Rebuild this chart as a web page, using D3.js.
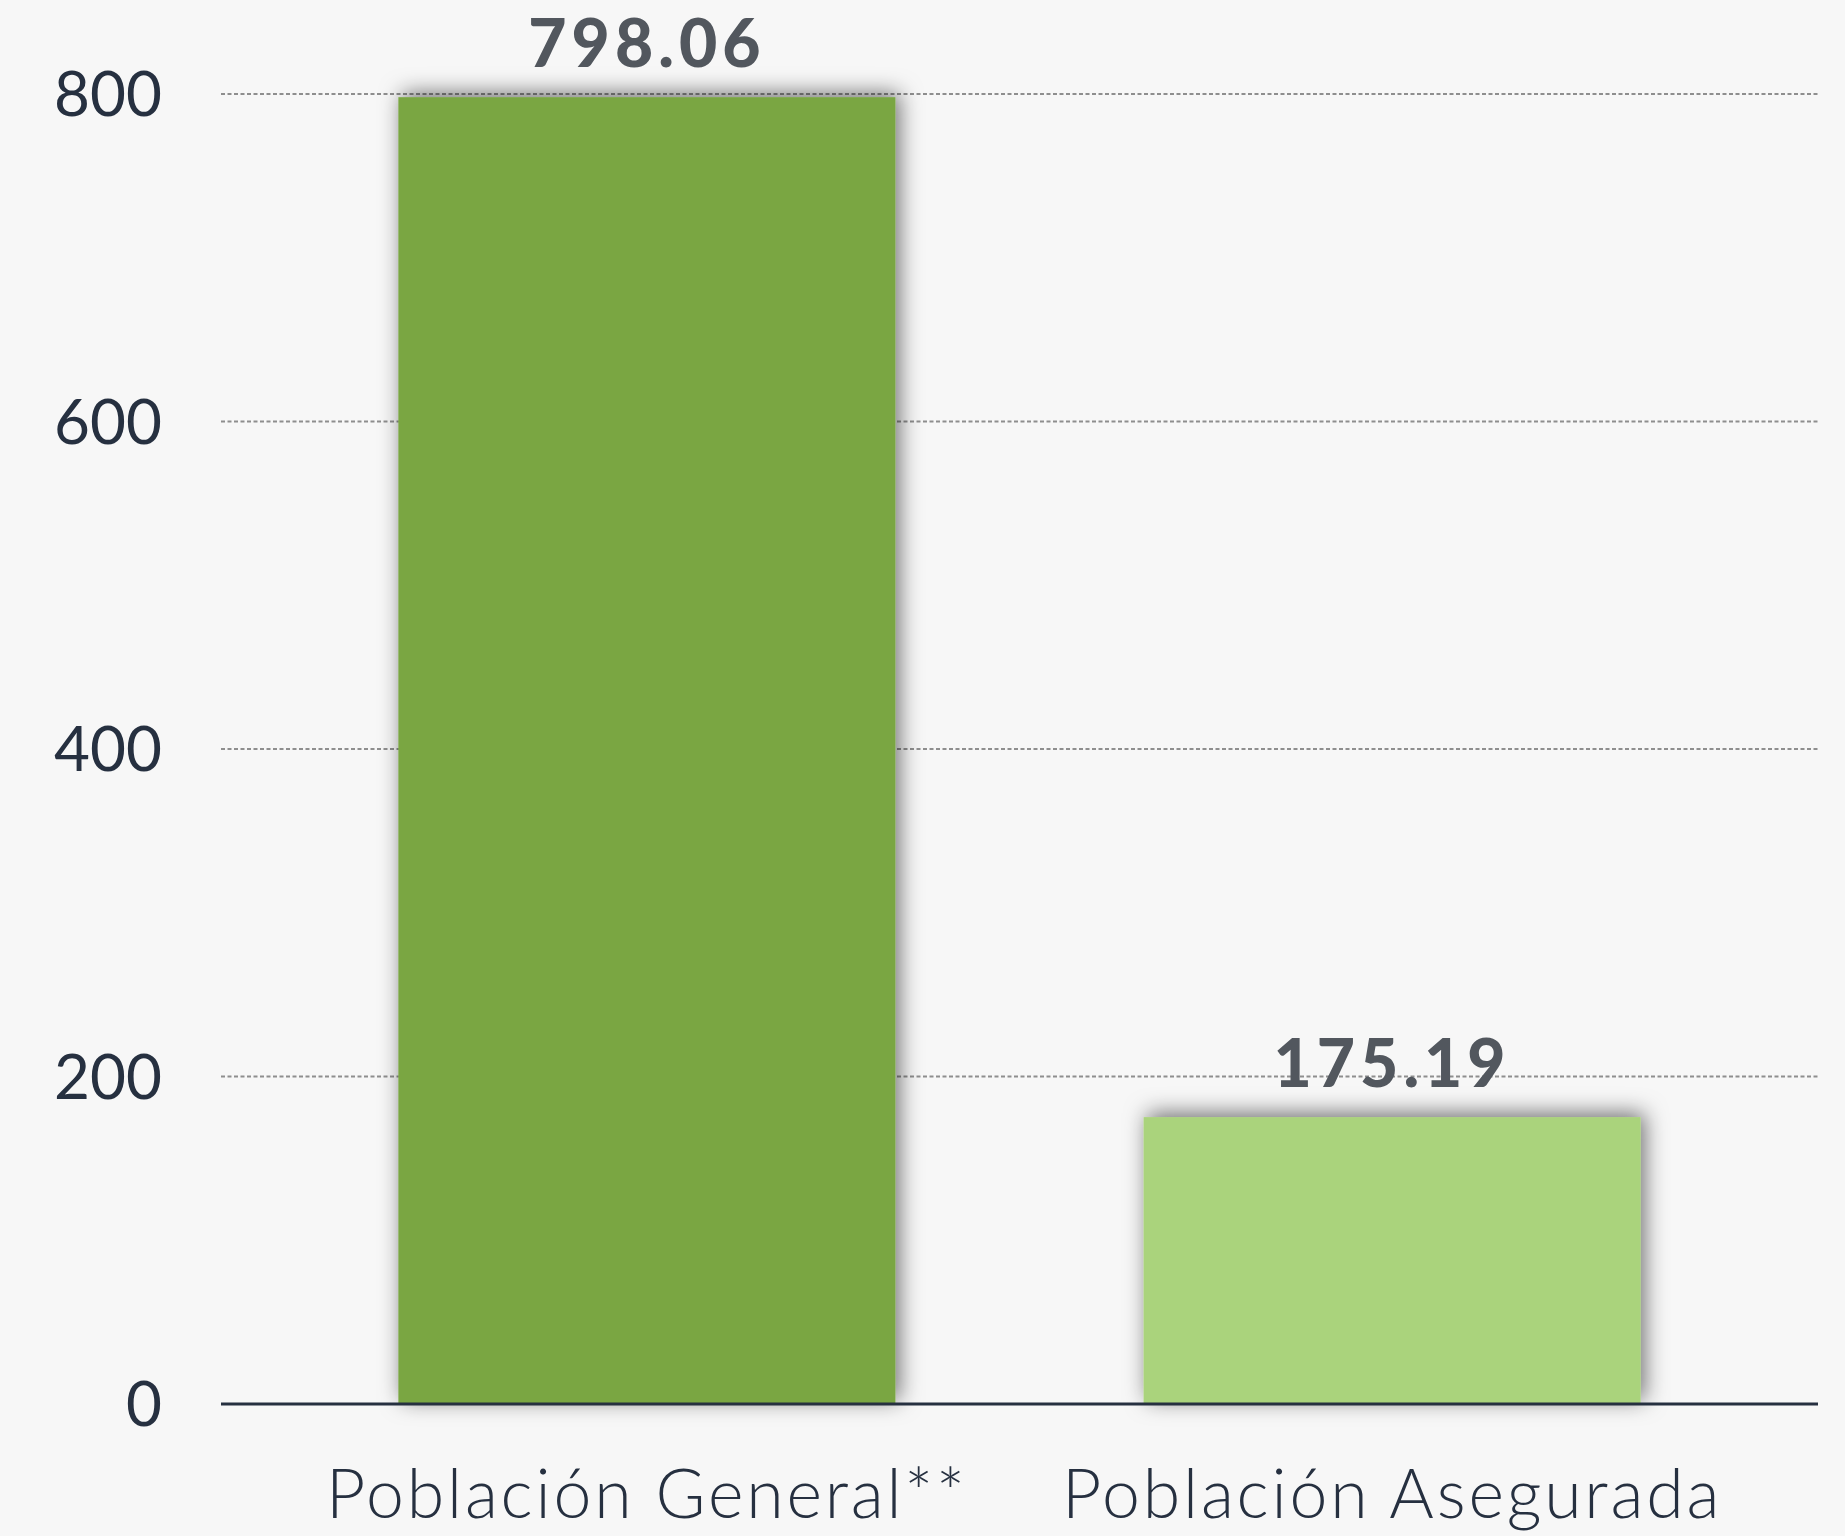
<!DOCTYPE html>
<html lang="es">
<head>
<meta charset="UTF-8">
<script src="https://d3js.org/d3.v7.min.js"></script>
<title>Población</title>
<style>
    body { margin: 0; background: #f7f7f7; }
    svg { display: block; }
    .tick-label { font-family: Lato, "Open Sans", sans-serif; font-weight: 400; fill: #263040; }
    .cat-label { font-family: Lato, "Open Sans", sans-serif; font-weight: 300; fill: #263040; }
    .value-label { font-family: Lato, "Open Sans", sans-serif; font-weight: 900; fill: #52575e; }
</style>
</head>
<body>
<div id="chart"></div>
<script>
    const categories = ["Población General**", "Población Asegurada"];
    const values = [798.06, 175.19];
    const barColors = ["#7aa643", "#aad37b"];
    const yTicks = [0, 200, 400, 600, 800];

    const width = 1845, height = 1536;
    const margin = {top: 94, right: 27, bottom: 132, left: 221};

    const svg = d3.select("#chart").append("svg")
        .attr("width", width)
        .attr("height", height);

    svg.append("rect").attr("width", width).attr("height", height).attr("fill", "#f7f7f7");

    const defs = svg.append("defs");
    const shadow = defs.append("filter").attr("id", "shadow")
        .attr("x", "-15%").attr("y", "-15%").attr("width", "130%").attr("height", "130%");
    shadow.append("feDropShadow")
        .attr("dx", 4).attr("dy", -4)
        .attr("stdDeviation", 11)
        .attr("flood-color", "#000")
        .attr("flood-opacity", 0.55);

    const x = d3.scaleBand()
        .domain(categories)
        .range([margin.left, width - margin.right])
        .paddingInner(0.333)
        .paddingOuter(0.238);

    const y = d3.scaleLinear()
        .domain([0, 800])
        .range([height - margin.bottom, margin.top]);

    // gridlines
    svg.append("g")
        .selectAll("line")
        .data(yTicks.filter(d => d > 0))
        .enter().append("line")
        .attr("x1", margin.left)
        .attr("x2", width - margin.right)
        .attr("y1", d => y(d))
        .attr("y2", d => y(d))
        .attr("stroke", "#8e8e8e")
        .attr("stroke-width", 2)
        .attr("stroke-dasharray", "4 2.5");

    // y tick labels
    svg.append("g")
        .selectAll("text")
        .data(yTicks)
        .enter().append("text")
        .attr("class", "tick-label")
        .attr("x", 162)
        .attr("y", d => y(d))
        .attr("dy", "0.36em")
        .attr("text-anchor", "end")
        .attr("font-size", 62)
        .text(d => d);

    // bars
    svg.append("g")
        .selectAll("rect")
        .data(values)
        .enter().append("rect")
        .attr("x", (d, i) => x(categories[i]))
        .attr("y", d => y(d))
        .attr("width", x.bandwidth())
        .attr("height", d => y(0) - y(d))
        .attr("fill", (d, i) => barColors[i])
        .attr("filter", "url(#shadow)");

    // axis line
    svg.append("line")
        .attr("x1", margin.left)
        .attr("x2", width - margin.right)
        .attr("y1", y(0))
        .attr("y2", y(0))
        .attr("stroke", "#263040")
        .attr("stroke-width", 3);

    // value labels
    svg.append("g")
        .selectAll("text")
        .data(values)
        .enter().append("text")
        .attr("class", "value-label")
        .attr("x", (d, i) => x(categories[i]) + x.bandwidth() / 2)
        .attr("y", d => y(d) - 30)
        .attr("text-anchor", "middle")
        .attr("font-size", 66)
        .attr("letter-spacing", 5)
        .text(d => d.toFixed(2));

    // category labels
    svg.append("g")
        .selectAll("text")
        .data(categories)
        .enter().append("text")
        .attr("class", "cat-label")
        .attr("x", d => x(d) + x.bandwidth() / 2)
        .attr("y", 1518)
        .attr("text-anchor", "middle")
        .attr("font-size", 68)
        .attr("letter-spacing", 2.8)
        .text(d => d);
</script>
</body>
</html>
